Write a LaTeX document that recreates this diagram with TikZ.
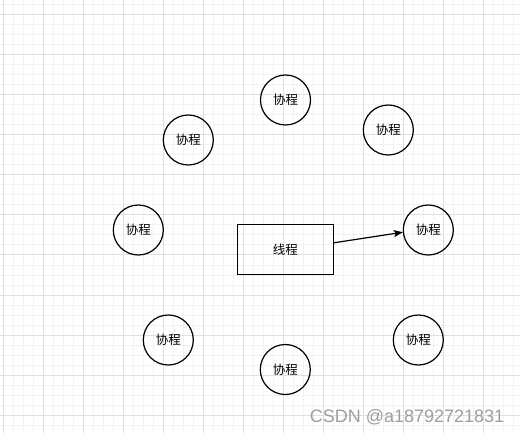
\documentclass[tikz,border=0pt]{standalone}
\usepackage{fontspec}
\setmainfont{Liberation Sans}
\newfontfamily\cjk{Noto Sans CJK SC}
\usetikzlibrary{arrows.meta,calc}
\definecolor{gridminor}{RGB}{242,242,242}
\definecolor{gridmajor}{RGB}{224,224,224}
\definecolor{wmark}{RGB}{158,158,158}
\tikzset{
  coro/.style={circle,draw=black,line width=1.2pt,minimum size=50pt,inner sep=0pt,fill=none,font=\cjk\fontsize{12.5}{14}\selectfont},
  thread/.style={rectangle,draw=black,line width=1.2pt,minimum width=96pt,minimum height=50pt,inner sep=0pt,font=\cjk\fontsize{12.5}{14}\selectfont},
  conn/.style={line width=1.2pt,-{Stealth[length=9pt,width=7pt,inset=2pt]}},
  wm/.style={font=\fontsize{18}{20}\selectfont,text=wmark,inner sep=0pt}
}
\begin{document}
\begin{tikzpicture}[x=1pt,y=-1pt]
\useasboundingbox (0,0) rectangle (520,433);
\fill[white] (0,0) rectangle (520,433);
% minor grid
\foreach \i in {0,...,51} {
  \draw[gridminor,line width=1pt] ({3.3+10*\i},0) -- ({3.3+10*\i},433);
}
\foreach \j in {0,...,43} {
  \draw[gridminor,line width=1pt] (0,{5+10*\j}) -- (520,{5+10*\j});
}
% major grid
\foreach \i in {0,...,12} {
  \draw[gridmajor,line width=1pt] ({3.3+40*\i},0) -- ({3.3+40*\i},433);
}
\foreach \j in {0,...,10} {
  \draw[gridmajor,line width=1pt] (0,{15+40*\j}) -- (520,{15+40*\j});
}
% nodes
\node[coro] (ct)  at (285.5,100) {协程};
\node[coro] (ctr) at (388.3,130) {协程};
\node[coro] (ctl) at (188.3,140) {协程};
\node[coro] (cl)  at (138.3,230) {协程};
\node[coro] (cr)  at (428.3,230) {协程};
\node[coro] (cbl) at (168.3,340) {协程};
\node[coro] (cb)  at (285.3,369.5) {协程};
\node[coro] (cbr) at (418.3,340) {协程};
\node[thread] (th) at (285.3,249.3) {线程};
% connector
\coordinate (s) at ($(th.east)+(0,-6.5)$);
\draw[conn] (s) -- (cr.185);
% watermark
\node[wm,anchor=base east] (w) at (504.5,422) {CSDN @a18792721831};
\end{tikzpicture}
\end{document}
